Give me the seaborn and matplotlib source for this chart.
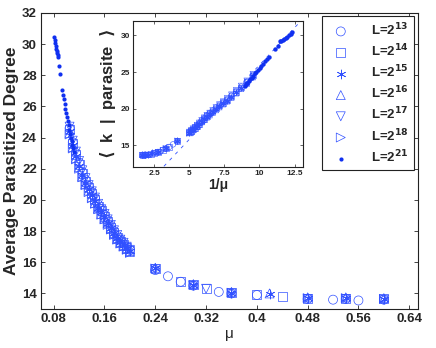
import numpy as np
import pandas as pd
from matplotlib import pyplot as plt
import seaborn as sns

# dense part of the curve, shared mu grid for the hollow-marker sizes
mu_dense = [0.105, 0.110, 0.115, 0.120, 0.125, 0.130, 0.135, 0.140, 0.145, 0.150,
            0.155, 0.160, 0.165, 0.170, 0.175, 0.180, 0.185, 0.190, 0.195, 0.200]

k13_dense = [24.6, 23.7, 23.0, 22.4, 21.8, 21.3, 20.9, 20.5, 20.1, 19.7,
             19.4, 19.05, 18.7, 18.35, 18.0, 17.7, 17.45, 17.2, 17.0, 16.8]
k14_dense = [24.5, 23.6, 22.9, 22.3, 21.7, 21.2, 20.8, 20.4, 20.0, 19.6,
             19.3, 18.95, 18.6, 18.25, 17.9, 17.6, 17.35, 17.15, 16.95, 16.75]
k15_dense = [24.4, 23.5, 22.8, 22.2, 21.6, 21.1, 20.7, 20.3, 19.9, 19.5,
             19.2, 18.9, 18.55, 18.2, 17.85, 17.55, 17.3, 17.1, 16.9, 16.7]
k16_dense = [24.3, 23.4, 22.7, 22.1, 21.5, 21.0, 20.6, 20.2, 19.8, 19.45,
             19.1, 18.8, 18.5, 18.15, 17.8, 17.5, 17.25, 17.05, 16.85, 16.65]
k17_dense = [24.7, 23.8, 23.1, 22.5, 21.9, 21.4, 20.95, 20.55, 20.15, 19.75,
             19.4, 19.1, 18.75, 18.4, 18.05, 17.75, 17.45, 17.25, 17.0, 16.8]
k18_dense = [24.2, 23.3, 22.6, 22.0, 21.45, 20.95, 20.5, 20.1, 19.75, 19.4,
             19.05, 18.75, 18.4, 18.1, 17.75, 17.45, 17.2, 17.0, 16.8, 16.6]

# sparse points at large mu
mu13_sparse = [0.24, 0.26, 0.28, 0.30, 0.34, 0.36, 0.40, 0.48, 0.52, 0.54, 0.56, 0.60]
k13_sparse = [15.5, 15.1, 14.75, 14.5, 14.1, 14.0, 13.9, 13.65, 13.6, 13.65, 13.55, 13.6]
mu14_sparse = [0.24, 0.28, 0.30, 0.32, 0.36, 0.40, 0.44, 0.48, 0.54, 0.60]
k14_sparse = [15.6, 14.75, 14.55, 14.3, 14.05, 13.9, 13.8, 13.7, 13.7, 13.65]
mu15_sparse = [0.24, 0.30, 0.36, 0.42, 0.48, 0.54, 0.60]
k15_sparse = [15.6, 14.55, 14.05, 13.95, 13.7, 13.7, 13.65]
mu16_sparse = [0.24, 0.30, 0.36, 0.42, 0.48, 0.54, 0.60]
k16_sparse = [15.65, 14.6, 14.1, 14.0, 13.75, 13.75, 13.7]
mu17_sparse = [0.24, 0.30, 0.32, 0.36, 0.48, 0.54, 0.60]
k17_sparse = [15.55, 14.5, 14.3, 14.0, 13.65, 13.65, 13.6]
mu18_sparse = [0.24, 0.30, 0.36, 0.48, 0.54, 0.60]
k18_sparse = [15.6, 14.55, 14.05, 13.7, 13.7, 13.65]

# largest system, filled dots
mu21 = [0.0810, 0.0818, 0.0826, 0.0834, 0.0842, 0.0850, 0.0858, 0.0866, 0.0872,
        0.0882, 0.0900, 0.0938, 0.0950, 0.0962, 0.0974, 0.0986, 0.0998, 0.1010,
        0.1022, 0.1034, 0.1046, 0.1058, 0.1070, 0.1082, 0.1094, 0.1106, 0.1118]
k21 = [30.45, 30.25, 30.05, 29.85, 29.7, 29.55, 29.4, 29.3, 29.2,
       28.6, 28.1, 27.05, 26.75, 26.45, 26.15, 25.85, 25.6, 25.3,
       25.05, 24.8, 24.5, 24.25, 24.0, 23.75, 23.55, 23.3, 23.1]

# dashed guide in the inset
fit_x = [3.2, 12.9]
fit_slope = 2.04
fit_icpt = 5.57

series_names = ['L=2$^{13}$', 'L=2$^{14}$', 'L=2$^{15}$', 'L=2$^{16}$',
                'L=2$^{17}$', 'L=2$^{18}$', 'L=2$^{21}$']
markers = ['o', 's', (6, 2, 0), '^', 'v', '>', 'o']

rows = []
dense = [k13_dense, k14_dense, k15_dense, k16_dense, k17_dense, k18_dense]
sparse = [(mu13_sparse, k13_sparse), (mu14_sparse, k14_sparse), (mu15_sparse, k15_sparse),
          (mu16_sparse, k16_sparse), (mu17_sparse, k17_sparse), (mu18_sparse, k18_sparse)]
for name, kd, (ms, ks) in zip(series_names[:6], dense, sparse):
    for m, k in zip(mu_dense + ms, kd + ks):
        rows.append((name, m, k))
for m, k in zip(mu21, k21):
    rows.append((series_names[6], m, k))
data = pd.DataFrame(rows, columns=['size', 'mu', 'k'])
data['inv_mu'] = 1.0 / data['mu']

sns.set_style('ticks')
plt.rcParams['font.family'] = ['Liberation Sans', 'DejaVu Sans']
plt.rcParams['mathtext.default'] = 'bf'
plt.rcParams['xtick.direction'] = 'in'
plt.rcParams['ytick.direction'] = 'in'
plt.rcParams['axes.linewidth'] = 0.8
plt.rcParams['axes.edgecolor'] = '#222222'

col_line = '#3050ff'
col_dot = '#1030f0'

fig = plt.figure(figsize=(4.36, 3.48), dpi=100)
ax = fig.add_axes([0.094, 0.112, 0.865, 0.851])
ins = fig.add_axes([0.305, 0.52, 0.39, 0.42])

for i, name in enumerate(series_names):
    d = data[data['size'] == name]
    if i < 6:
        fc = 'none'
        if markers[i] == (6, 2, 0):
            fc = col_line
        sns.scatterplot(x='mu', y='k', data=d, ax=ax, marker=markers[i], s=42,
                        facecolor=fc, edgecolor=col_line, color=col_line,
                        linewidth=0.5, label=name)
        sns.scatterplot(x='inv_mu', y='k', data=d, ax=ins, marker=markers[i], s=16,
                        facecolor=fc, edgecolor=col_line, color=col_line,
                        linewidth=0.4, legend=False)
    else:
        sns.scatterplot(x='mu', y='k', data=d, ax=ax, marker='o', s=9,
                        color=col_dot, edgecolor=col_dot, linewidth=0, label=name)
        sns.scatterplot(x='inv_mu', y='k', data=d, ax=ins, marker='o', s=10,
                        color=col_dot, edgecolor=col_dot, linewidth=0, legend=False)

fit_y = [fit_slope * x + fit_icpt for x in fit_x]
ins.plot(fit_x, fit_y, ls=(0, (4, 6)), color=col_line, lw=0.6, zorder=0)

# main axes
ax.set_xlim(0.06, 0.654)
ax.set_ylim(13, 32)
xt = [0.08, 0.16, 0.24, 0.32, 0.4, 0.48, 0.56, 0.64]
ax.set_xticks(xt)
ax.set_xticklabels(['%g' % v for v in xt], fontsize=9.5, fontweight='bold')
ax.set_yticks(range(14, 33, 2))
ax.set_yticklabels([str(v) for v in range(14, 33, 2)], fontsize=9.5, fontweight='bold')
ax.tick_params(top=True, right=True, length=3, width=0.6, pad=3)
ax.set_xlabel('μ', fontsize=11, labelpad=1)
ax.set_ylabel('Average Parasitized Degree', fontsize=12.5, fontweight='bold', labelpad=2)

# inset
ins.set_xlim(1.0, 13.1)
ins.set_ylim(12, 32)
ins.set_xticks([2.5, 5, 7.5, 10, 12.5])
ins.set_xticklabels(['2.5', '5', '7.5', '10', '12.5'], fontsize=6, fontweight='bold')
ins.set_yticks([15, 20, 25, 30])
ins.set_yticklabels(['15', '20', '25', '30'], fontsize=6, fontweight='bold')
ins.tick_params(top=True, right=True, length=2.5, width=0.5, pad=2)
ins.set_xlabel('1/μ', fontsize=10, fontweight='bold', labelpad=1)
ins.set_ylabel(r'$\langle$  k  |  parasite  $\rangle$', fontsize=12, fontweight='bold', labelpad=2)

handles, labels = ax.get_legend_handles_labels()
ax.get_legend().remove()
leg = fig.legend(handles, labels, loc='upper right', bbox_to_anchor=(0.950, 0.954),
                 bbox_transform=fig.transFigure, borderaxespad=0, fancybox=False,
                 edgecolor='#222222', framealpha=1, prop={'weight': 'bold', 'size': 9.5},
                 labelspacing=0.35, handletextpad=1.3, borderpad=0.4, markerscale=1.0)
leg.get_frame().set_linewidth(0.8)

fig.savefig('out.png', dpi=100)
